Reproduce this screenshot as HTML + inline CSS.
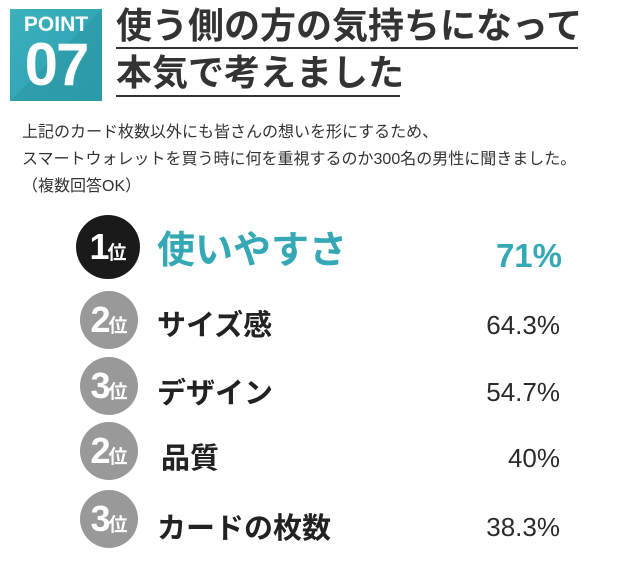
<!DOCTYPE html>
<html><head><meta charset="utf-8"><style>
body{margin:0;width:640px;height:568px;background:#fff;position:relative;overflow:hidden;font-family:"Liberation Sans","Noto Sans CJK JP",sans-serif;color:#2b2b2b}
.a{position:absolute;white-space:nowrap}
.box{left:10px;top:9px;width:92px;height:92px;background:linear-gradient(135deg,#3cb0bd 0%,#33a7b5 50%,#2e9eac 50%,#2b9aa8 100%)}
.circ{position:absolute;border-radius:50%;background:#999;color:#fff;text-align:center;font-weight:bold}
.circ b{font-size:36px;letter-spacing:-2px}
.circ i{font-style:normal;font-size:19px}
.lab{font-weight:bold;font-size:29px;color:#222}
.pct{font-size:26px;right:80px;color:#2b2b2b}
</style></head><body>
<div class="a box"></div>
<div class="a" style="left:10px;top:13px;width:92px;text-align:center;color:#fff;font-weight:bold;font-size:21px">POINT</div>
<div class="a" style="left:10px;top:33px;width:92px;text-align:center;color:#fff;font-weight:bold;font-size:60px;line-height:64px;letter-spacing:-2px">07</div>
<div class="a" style="left:116px;top:4px;font-size:36px;font-weight:bold;color:#333;line-height:44px">使う側の方の気持ちになって</div>
<div class="a" style="left:116px;top:47px;width:462px;height:2px;background:#333"></div>
<div class="a" style="left:116px;top:51px;font-size:36px;font-weight:bold;color:#333;line-height:44px">本気で考えました</div>
<div class="a" style="left:116px;top:95px;width:284px;height:2px;background:#333"></div>
<div class="a" style="left:22px;top:119px;font-size:16px;line-height:27px;color:#333">上記のカード枚数以外にも皆さんの想いを形にするため、<br>スマートウォレットを買う時に何を重視するのか300名の男性に聞きました。<br>（複数回答OK）</div>

<div class="circ" style="left:76px;top:215px;width:64px;height:64px;line-height:64px;background:#1a1a1a"><b>1</b><i>位</i></div>
<div class="a" style="left:157px;top:228px;font-size:38px;font-weight:bold;color:#35a8b5;line-height:46px">使いやすさ</div>
<div class="a pct" style="top:236px;font-size:33px;font-weight:bold;color:#35a8b5;line-height:40px;right:78px">71%</div>

<div class="circ" style="left:80px;top:291px;width:58px;height:58px;line-height:58px"><b>2</b><i>位</i></div>
<div class="a lab" style="left:157px;top:302px">サイズ感</div>
<div class="a pct" style="top:310px">64.3%</div>

<div class="circ" style="left:80px;top:357px;width:58px;height:58px;line-height:58px"><b>3</b><i>位</i></div>
<div class="a lab" style="left:157px;top:370px">デザイン</div>
<div class="a pct" style="top:377px">54.7%</div>

<div class="circ" style="left:80px;top:422px;width:58px;height:58px;line-height:58px"><b>2</b><i>位</i></div>
<div class="a lab" style="left:161px;top:435px">品質</div>
<div class="a pct" style="top:443px">40%</div>

<div class="circ" style="left:80px;top:490px;width:58px;height:58px;line-height:58px"><b>3</b><i>位</i></div>
<div class="a lab" style="left:157px;top:505px">カードの枚数</div>
<div class="a pct" style="top:512px">38.3%</div>
</body></html>
